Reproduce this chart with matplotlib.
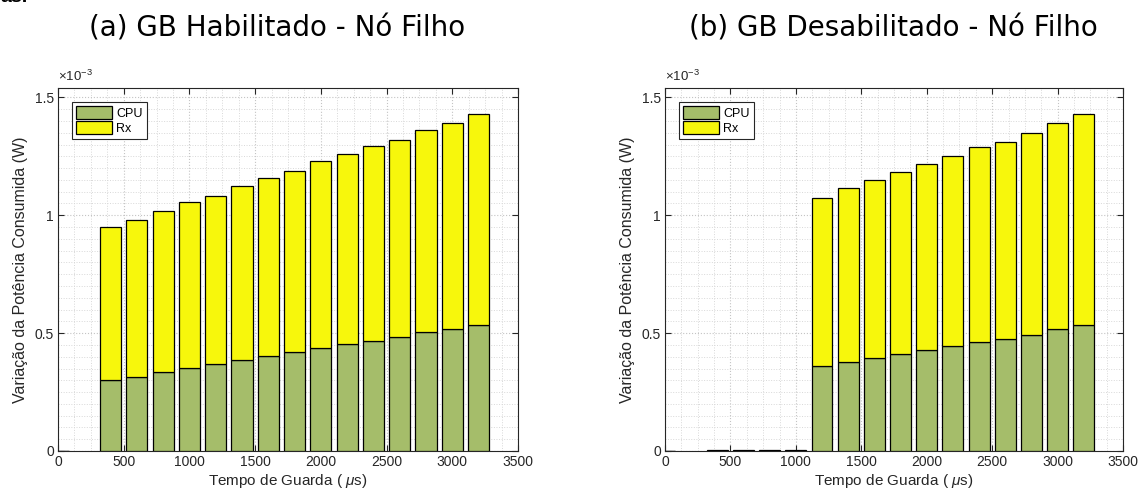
import numpy as np
import matplotlib
matplotlib.use('Agg')
import matplotlib.pyplot as plt
from matplotlib.ticker import MultipleLocator, FormatStrFormatter

# Guard times (us) and power values, in units of 1e-3 W
guard_time = [0, 400, 600, 800, 1000, 1200, 1400, 1600, 1800,
              2000, 2200, 2400, 2600, 2800, 3000, 3200]

# (a) GB enabled
cpu_on = [0, 0.300, 0.314, 0.336, 0.353, 0.367, 0.384, 0.401, 0.418,
          0.439, 0.455, 0.466, 0.484, 0.503, 0.517, 0.534]
total_on = [0, 0.950, 0.980, 1.017, 1.055, 1.080, 1.123, 1.157, 1.190,
            1.230, 1.261, 1.292, 1.320, 1.363, 1.391, 1.428]

# (b) GB disabled
cpu_off = [0, 0, 0, 0, 0, 0.360, 0.377, 0.394, 0.411,
           0.428, 0.445, 0.462, 0.476, 0.493, 0.516, 0.533]
total_off = [0, 0.004, 0.004, 0.004, 0.004, 1.075, 1.116, 1.150, 1.185,
             1.219, 1.253, 1.288, 1.311, 1.350, 1.391, 1.428]

rx_on = np.array(total_on) - np.array(cpu_on)
rx_off = np.array(total_off) - np.array(cpu_off)

titles = ['(a) GB Habilitado - Nó Filho', '(b) GB Desabilitado - Nó Filho']
series_names = ['CPU', 'Rx']

cpu_color = '#A5BD6A'
rx_color = '#F7F70C'
axis_color = '#262626'

plt.rcParams['font.family'] = ['Liberation Sans', 'DejaVu Sans']
plt.rcParams['mathtext.fontset'] = 'custom'
plt.rcParams['mathtext.it'] = 'Liberation Sans:italic'
plt.rcParams['mathtext.rm'] = 'Liberation Sans'

fig = plt.figure(figsize=(11.46, 5.0), dpi=100)
ax_a = fig.add_axes([58 / 1146, 49 / 500, 460 / 1146, 363 / 500])
ax_b = fig.add_axes([665 / 1146, 49 / 500, 458 / 1146, 363 / 500])

data = [(ax_a, cpu_on, rx_on), (ax_b, cpu_off, rx_off)]
title_x = [277 / 1146, 893 / 1146]
for i, (ax, cpu, rx) in enumerate(data):
    ax.bar(guard_time, cpu, width=160, color=cpu_color, edgecolor='black',
           linewidth=0.9, label=series_names[0], zorder=3)
    ax.bar(guard_time, rx, width=160, bottom=cpu, color=rx_color,
           edgecolor='black', linewidth=0.9, label=series_names[1], zorder=3)

    ax.set_xlim(0, 3500)
    ax.set_ylim(0, 1.54)
    ax.xaxis.set_major_locator(MultipleLocator(500))
    ax.xaxis.set_minor_locator(MultipleLocator(125))
    ax.yaxis.set_major_locator(MultipleLocator(0.5))
    ax.yaxis.set_minor_locator(MultipleLocator(0.05))
    ax.yaxis.set_major_formatter(FormatStrFormatter('%g'))

    ax.grid(which='major', linestyle=':', color='#c4c4c4', linewidth=0.8)
    ax.grid(which='minor', linestyle=':', color='#d8d8d8', linewidth=0.7)
    ax.set_axisbelow(True)

    ax.tick_params(which='major', direction='in', top=True, right=True,
                   length=4, width=0.8, color=axis_color, labelsize=10,
                   labelcolor=axis_color, pad=3)
    ax.tick_params(which='minor', length=0, top=True, right=True)
    for sp in ax.spines.values():
        sp.set_color(axis_color)
        sp.set_linewidth(0.8)

    ax.set_xlabel('Tempo de Guarda ( $\\mu$s)', fontsize=11,
                  color=axis_color, labelpad=2)
    ax.set_ylabel('Variação da Potência Consumida (W)', fontsize=11.5,
                  color=axis_color, labelpad=5)
    ax.text(0, 1.01, '$\\times10^{-3}$', transform=ax.transAxes,
            fontsize=9.5, color=axis_color, ha='left', va='bottom')

    leg = ax.legend(loc='upper left', bbox_to_anchor=(0.03, 0.962),
                    fontsize=9, fancybox=False, framealpha=1,
                    edgecolor=axis_color, handlelength=2.9,
                    handleheight=1.15, handletextpad=0.3, borderpad=0.35,
                    labelspacing=0.15, borderaxespad=0)
    leg.get_frame().set_linewidth(0.8)

    fig.text(title_x[i], 1 - 37 / 500, titles[i], fontsize=20,
             family='DejaVu Sans', ha='center', va='baseline', color='black')

fig.text(0.0, 1.004, 'as.', fontsize=14, fontweight='bold', ha='left',
         va='center')

fig.savefig('out.png', dpi=100)
